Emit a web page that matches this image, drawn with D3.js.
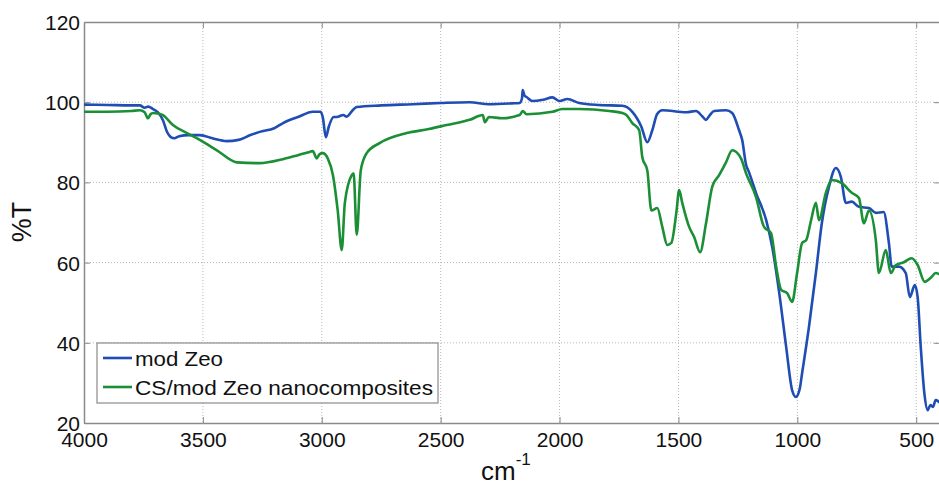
<!DOCTYPE html>
<html>
<head>
<meta charset="utf-8">
<script src="https://cdn.jsdelivr.net/npm/d3@7"></script>
<style>
  body { margin: 0; background: #fff; }
  text { font-family: Arial, "Liberation Sans", sans-serif; fill: #111; }
  .grid line { stroke: #b8b8b8; stroke-dasharray: 1,2; }
</style>
</head>
<body>
<script>
(function(){

    // FTIR spectra
    var xTicks = [4000, 3500, 3000, 2500, 2000, 1500, 1000, 500];
    var yTicks = [20, 40, 60, 80, 100, 120];
    var seriesNames = ["mod Zeo", "CS/mod Zeo nanocomposites"];
    var seriesColors = ["#1f4db3", "#1b8f36"];

    var zeoWn = [4000,3900,3800,3765,3745,3730,3710,3690,3668,3650,3635,3620,3600,3560,3512,3460,3400,3350,3300,3261,
        3200,3163,3100,3037,3005,2995,2983,2970,2950,2937,2910,2895,2870,2853,2750,2618,2500,2378,2297,2200,
        2168,2158,2155,2147,2139,2114,2070,2030,2000,1967,1917,1833,1736,1694,1656,1631,1610,1590,1568,1467,
        1426,1400,1384,1368,1350,1300,1274,1245,1232,1216,1203,1174,1131,1106,1076,1047,1022,1006,990,980,
        951,922,897,867,838,817,796,771,741,699,670,637,615,603,573,544,527,506,494,481,
        465,452,440,430,418,400];
    var zeoT = [99.4,99.3,99.2,99.2,98.6,98.9,98.3,97.5,95.5,92.5,91.3,91.0,91.5,91.8,91.8,91.0,90.3,90.6,91.8,92.6,
        93.5,94.8,96.3,97.6,97.6,96.0,91.3,94.0,96.3,96.3,96.8,96.4,98.0,98.8,99.2,99.5,99.8,100.0,99.5,99.7,
        99.8,101.0,103.0,101.6,101.3,100.3,100.6,101.2,100.3,100.8,99.8,99.3,99.1,97.6,93.9,90.0,93.0,97.0,98.0,97.5,
        97.8,96.5,95.6,96.8,97.8,98.0,97.3,93.0,90.6,84.5,82.5,77.4,70.6,64.0,52.4,39.0,28.2,26.5,28.5,32.4,
        44.0,57.4,69.8,78.9,83.6,81.4,74.9,75.2,73.9,73.6,72.4,72.6,64.9,59.0,59.0,57.4,51.4,54.4,51.4,39.0,
        27.0,23.2,24.5,24.0,25.7,25.0];

    var csWn = [4000,3900,3800,3765,3745,3731,3720,3710,3690,3668,3626,3567,3513,3441,3357,3261,3163,3100,3051,3038,
        3021,3010,2996,2975,2953,2933,2916,2903,2874,2866,2853,2836,2811,2757,2643,2550,2475,2378,2323,2314,
        2297,2240,2168,2155,2139,2030,1988,1917,1791,1736,1719,1694,1665,1652,1631,1614,1589,1568,1547,1530,
        1509,1497,1484,1455,1434,1409,1384,1358,1329,1300,1274,1237,1216,1174,1140,1111,1089,1068,1043,1022,
        1001,980,963,942,922,909,880,855,813,771,741,720,699,670,657,628,607,586,552,519,
        494,464,439,418,400];
    var csT = [97.6,97.6,97.8,98.0,97.5,96.0,97.0,97.3,97.2,96.8,94.3,92.3,90.6,88.0,85.0,84.8,85.8,86.8,87.6,87.8,
        86.0,87.0,87.3,86.0,81.8,73.0,63.1,74.9,81.8,82.3,66.9,83.0,87.3,89.8,92.3,93.3,94.3,95.6,96.8,95.0,
        96.3,96.0,96.8,97.8,97.0,97.6,98.3,98.3,97.8,97.3,96.8,94.8,93.0,86.3,83.0,73.0,73.6,68.9,64.4,64.9,
        72.4,78.1,74.9,68.9,66.4,62.6,69.8,78.9,81.8,85.0,88.0,86.0,82.3,76.4,68.9,67.4,59.0,53.2,52.4,50.2,
        57.4,64.9,65.6,70.6,74.9,70.6,77.4,80.6,79.8,77.4,76.1,69.8,73.0,65.6,57.4,63.1,57.4,59.4,60.1,61.1,
        59.4,55.2,56.2,57.4,57.0];

    var width = 939, height = 485;
    var left = 84, right = 940, top = 22, bottom = 423;

    var svg = d3.select("body").append("svg")
        .attr("width", width)
        .attr("height", height);

    var x = d3.scaleLinear().domain([4000, 400]).range([left, right]);
    var y = d3.scaleLinear().domain([20, 120]).range([bottom, top]);

    // dotted grid
    var grid = svg.append("g").attr("class", "grid");
    grid.selectAll(".vx").data(xTicks.slice(1)).enter().append("line")
        .attr("x1", function(d){ return x(d); }).attr("x2", function(d){ return x(d); })
        .attr("y1", top).attr("y2", bottom);
    grid.selectAll(".hy").data(yTicks.slice(1, -1)).enter().append("line")
        .attr("x1", left).attr("x2", right)
        .attr("y1", function(d){ return y(d); }).attr("y2", function(d){ return y(d); });

    // axes, matlab style ticks pointing in
    var tickCol = "#8a8a8a";
    var fmt = d3.format("d");
    var xAxis = svg.append("g").attr("transform", "translate(0," + bottom + ")")
        .call(d3.axisBottom(x).tickValues(xTicks).tickFormat(fmt).tickSizeInner(-6).tickSizeOuter(0).tickPadding(9));
    var xTop = svg.append("g").attr("transform", "translate(0," + top + ")")
        .call(d3.axisTop(x).tickValues(xTicks).tickSizeInner(-6).tickSizeOuter(0).tickFormat(""));
    var yAxis = svg.append("g").attr("transform", "translate(" + left + ",0)")
        .call(d3.axisLeft(y).tickValues(yTicks).tickFormat(fmt).tickSizeInner(-6).tickSizeOuter(0).tickPadding(4));
    var yRight = svg.append("g").attr("transform", "translate(" + right + ",0)")
        .call(d3.axisRight(y).tickValues(yTicks).tickSizeInner(-6).tickSizeOuter(0).tickFormat(""));

    [xAxis, xTop, yAxis, yRight].forEach(function(a){
        a.select(".domain").attr("stroke", tickCol).attr("stroke-width", 1.5);
        a.selectAll(".tick line").attr("stroke", tickCol);
        a.selectAll(".tick text").style("font-size", "21px").attr("fill", "#111");
    });
    xAxis.selectAll(".tick text").attr("dy", "0.71em");
    yAxis.selectAll(".tick text").attr("dy", "0.36em");

    // spectra
    svg.append("clipPath").attr("id", "plotclip").append("rect")
        .attr("x", left).attr("y", top).attr("width", right - left).attr("height", bottom - top);

    var line = d3.line()
        .curve(d3.curveMonotoneX)
        .x(function(d){ return x(d[0]); })
        .y(function(d){ return y(d[1]); });

    var series = [d3.zip(zeoWn, zeoT), d3.zip(csWn, csT)];
    svg.append("g").attr("clip-path", "url(#plotclip)")
        .selectAll("path").data(series).enter().append("path")
        .attr("d", line)
        .attr("fill", "none")
        .attr("stroke", function(d, i){ return seriesColors[i]; })
        .attr("stroke-width", 2.6)
        .attr("stroke-linejoin", "round");

    // legend (text a bit wider than the font, like the original)
    var legendWidths = [88, 298];
    var legend = svg.append("g");
    legend.append("rect")
        .attr("x", 97).attr("y", 343).attr("width", 341).attr("height", 60)
        .attr("fill", "#fff").attr("stroke", "#8a8a8a").attr("stroke-width", 1.2);
    seriesNames.forEach(function(name, i){
        var ly = 358 + i * 29;
        legend.append("line")
            .attr("x1", 103).attr("x2", 132).attr("y1", ly).attr("y2", ly)
            .attr("stroke", seriesColors[i]).attr("stroke-width", 2.6);
        legend.append("text")
            .attr("x", 135).attr("y", ly + 8)
            .attr("textLength", legendWidths[i])
            .attr("lengthAdjust", "spacingAndGlyphs")
            .style("font-size", "21px")
            .text(name);
    });

    // axis titles
    svg.append("text")
        .attr("transform", "translate(31,222) rotate(-90)")
        .attr("text-anchor", "middle")
        .style("font-size", "27px")
        .text("%T");

    var xt = svg.append("text")
        .attr("x", 481).attr("y", 480)
        .style("font-size", "26px");
    xt.append("tspan").text("cm");
    xt.append("tspan").attr("dy", -15).style("font-size", "17px").text("-1");

})();
</script>
</body>
</html>
